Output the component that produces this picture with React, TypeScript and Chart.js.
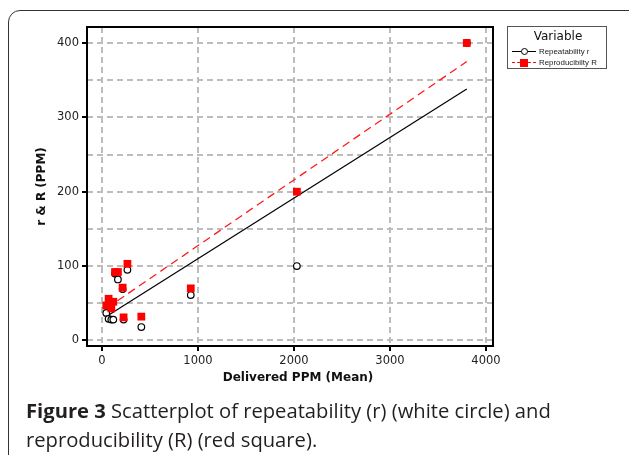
import React, { useEffect, useRef } from 'react';
import { Chart, registerables } from 'chart.js';

Chart.register(...registerables);

// ---- data ----
const xMean = [45, 69, 97, 118, 136, 166, 215, 225, 265, 410, 925, 2030, 3800];
const repeatabilityR = [37, 29, 28, 28, 90, 82, 69, 28, 95, 18, 61, 100, 400];
const reproducibilityR = [47, 56, 43, 52, 92, 92, 71, 31, 103, 32, 70, 200, 400];

const fitX = [50, 3800];
const fitRepeatability = [32.5, 338];
const fitReproducibility = [43.5, 375];

const xTicks = [0, 1000, 2000, 3000, 4000];
const yTicks = [0, 50, 100, 150, 200, 250, 300, 350, 400];
const yLabeled = [0, 100, 200, 300, 400];

const xTitle = 'Delivered PPM (Mean)';
const yTitle = 'r & R (PPM)';
const legendTitle = 'Variable';
const seriesNames = ['Repeatability r', 'Reproducibilty R'];

const framePlugin = {
  id: 'frameAndTitles',
  afterDraw(chart: any) {
    const { ctx, chartArea: a } = chart;
    ctx.save();
    ctx.strokeStyle = '#000';
    ctx.lineWidth = 2;
    ctx.strokeRect(a.left, a.top, a.right - a.left, a.bottom - a.top);
    ctx.fillStyle = '#111';
    ctx.font = 'bold 12px "DejaVu Sans"';
    ctx.textAlign = 'center';
    ctx.textBaseline = 'middle';
    ctx.fillText(xTitle, 298, 378);
    ctx.translate(41.7, (a.top + a.bottom) / 2);
    ctx.rotate(-Math.PI / 2);
    ctx.fillText(yTitle, 0, 0);
    ctx.restore();
  },
};

function ScatterChart() {
  const ref = useRef<HTMLCanvasElement | null>(null);
  useEffect(() => {
    if (!ref.current) return;
    const tickFont = { family: 'DejaVu Sans', size: 11.5 };
    const gridCommon = {
      color: '#bdbdbd',
      lineWidth: 2,
      tickLength: 5,
      tickWidth: 2,
      tickBorderDash: [],
    };
    const chart = new Chart(ref.current, {
      type: 'scatter',
      data: {
        datasets: [
          {
            label: seriesNames[1],
            data: xMean.map((x, i) => ({ x, y: reproducibilityR[i] })),
            pointStyle: 'rect',
            pointRadius: 5.5,
            backgroundColor: '#ff0000',
            borderWidth: 0,
            order: 0,
          },
          {
            label: seriesNames[0],
            data: xMean.map((x, i) => ({ x, y: repeatabilityR[i] })),
            pointStyle: 'circle',
            pointRadius: 3.3,
            backgroundColor: '#ffffff',
            borderColor: '#000000',
            borderWidth: 1.2,
            order: 1,
          },
          {
            label: 'fitR',
            data: fitX.map((x, i) => ({ x, y: fitReproducibility[i] })),
            showLine: true,
            pointRadius: 0,
            borderColor: '#ff1a1a',
            borderWidth: 1.3,
            borderDash: [8, 5],
            order: 2,
          },
          {
            label: 'fitr',
            data: fitX.map((x, i) => ({ x, y: fitRepeatability[i] })),
            showLine: true,
            pointRadius: 0,
            borderColor: '#000000',
            borderWidth: 1.2,
            order: 3,
          },
        ] as any,
      },
      options: {
        responsive: false,
        animation: false,
        devicePixelRatio: 1,
        layout: { padding: { left: 0, right: 136, top: 27, bottom: 0 } },
        plugins: { legend: { display: false }, tooltip: { enabled: false } },
        scales: {
          x: {
            type: 'linear',
            min: -156,
            max: 4073,
            afterBuildTicks: (s: any) => {
              s.ticks = xTicks.map((v) => ({ value: v }));
            },
            afterFit: (s: any) => {
              s.height = 109;
            },
            grid: { ...gridCommon, tickColor: '#000' },
            border: { display: false, dash: [6, 4] },
            ticks: {
              font: tickFont,
              color: '#222',
              padding: 3,
              maxRotation: 0,
              autoSkip: false,
              callback: (v: any) => String(v),
            },
          },
          y: {
            type: 'linear',
            min: -7.5,
            max: 421.5,
            afterBuildTicks: (s: any) => {
              s.ticks = yTicks.map((v) => ({ value: v }));
            },
            afterFit: (s: any) => {
              s.width = 87;
            },
            grid: {
              ...gridCommon,
              tickColor: (c: any) =>
                c.tick && yLabeled.includes(c.tick.value) ? '#000' : 'rgba(0,0,0,0)',
            },
            border: { display: false, dash: [6, 4] },
            ticks: {
              font: tickFont,
              color: '#222',
              padding: 3,
              autoSkip: false,
              callback: (v: any) => (yLabeled.includes(Number(v)) ? String(v) : ''),
            },
          },
        },
      } as any,
      plugins: [framePlugin],
    });
    return () => chart.destroy();
  }, []);
  return (
    <canvas
      ref={ref}
      width={629}
      height={455}
      style={{ position: 'absolute', left: 0, top: 0, width: 629, height: 455 }}
    />
  );
}

function Legend() {
  const entry = (i: number, top: number) => (
    <div key={i} style={{ position: 'absolute', left: 0, top, width: 100, height: 10 }}>
      <div
        style={{
          position: 'absolute',
          left: 4,
          top: 4,
          width: 24,
          height: 0,
          borderTop: i === 0 ? '1.5px solid #000' : '1.5px dashed #ff0000',
        }}
      />
      {i === 0 ? (
        <div
          style={{
            position: 'absolute',
            left: 12.5,
            top: 1.3,
            width: 5,
            height: 5,
            borderRadius: '50%',
            border: '1.2px solid #000',
            background: '#fff',
          }}
        />
      ) : (
        <div
          style={{
            position: 'absolute',
            left: 12,
            top: 1,
            width: 8,
            height: 8,
            background: '#ff0000',
          }}
        />
      )}
      <div
        style={{
          position: 'absolute',
          left: 31,
          top: 0,
          fontFamily: '"Liberation Sans", Arial, sans-serif',
          fontSize: 7.9,
          lineHeight: '10px',
          color: '#222',
          whiteSpace: 'nowrap',
        }}
      >
        {seriesNames[i]}
      </div>
    </div>
  );
  return (
    <div
      style={{
        position: 'absolute',
        left: 507,
        top: 26,
        width: 100,
        height: 43,
        border: '1px solid #555',
        boxSizing: 'border-box',
        background: '#fff',
      }}
    >
      <div
        style={{
          position: 'absolute',
          left: 0,
          top: 2,
          width: 100,
          textAlign: 'center',
          fontFamily: '"DejaVu Sans"',
          fontSize: 12,
          lineHeight: '15px',
          color: '#111',
        }}
      >
        {legendTitle}
      </div>
      {entry(0, 19.5)}
      {entry(1, 31)}
    </div>
  );
}

export default function App() {
  return (
    <div
      style={{
        position: 'absolute',
        left: 0,
        top: 0,
        width: 629,
        height: 455,
        overflow: 'hidden',
        background: '#fff',
      }}
    >
      <div
        style={{
          position: 'absolute',
          left: 8,
          top: 10,
          width: 700,
          height: 600,
          border: '1.5px solid #333',
          borderRadius: 12,
        }}
      />
      <ScatterChart />
      <Legend />
      <div
        style={{
          position: 'absolute',
          left: 26,
          top: 396,
          width: 600,
          fontFamily: '"Open Sans", sans-serif',
          fontSize: 20.2,
          lineHeight: '29px',
          color: '#231f20',
        }}
      >
        <b>Figure 3</b> Scatterplot of repeatability (r) (white circle) and
        <br />
        reproducibility (R) (red square).
      </div>
    </div>
  );
}
